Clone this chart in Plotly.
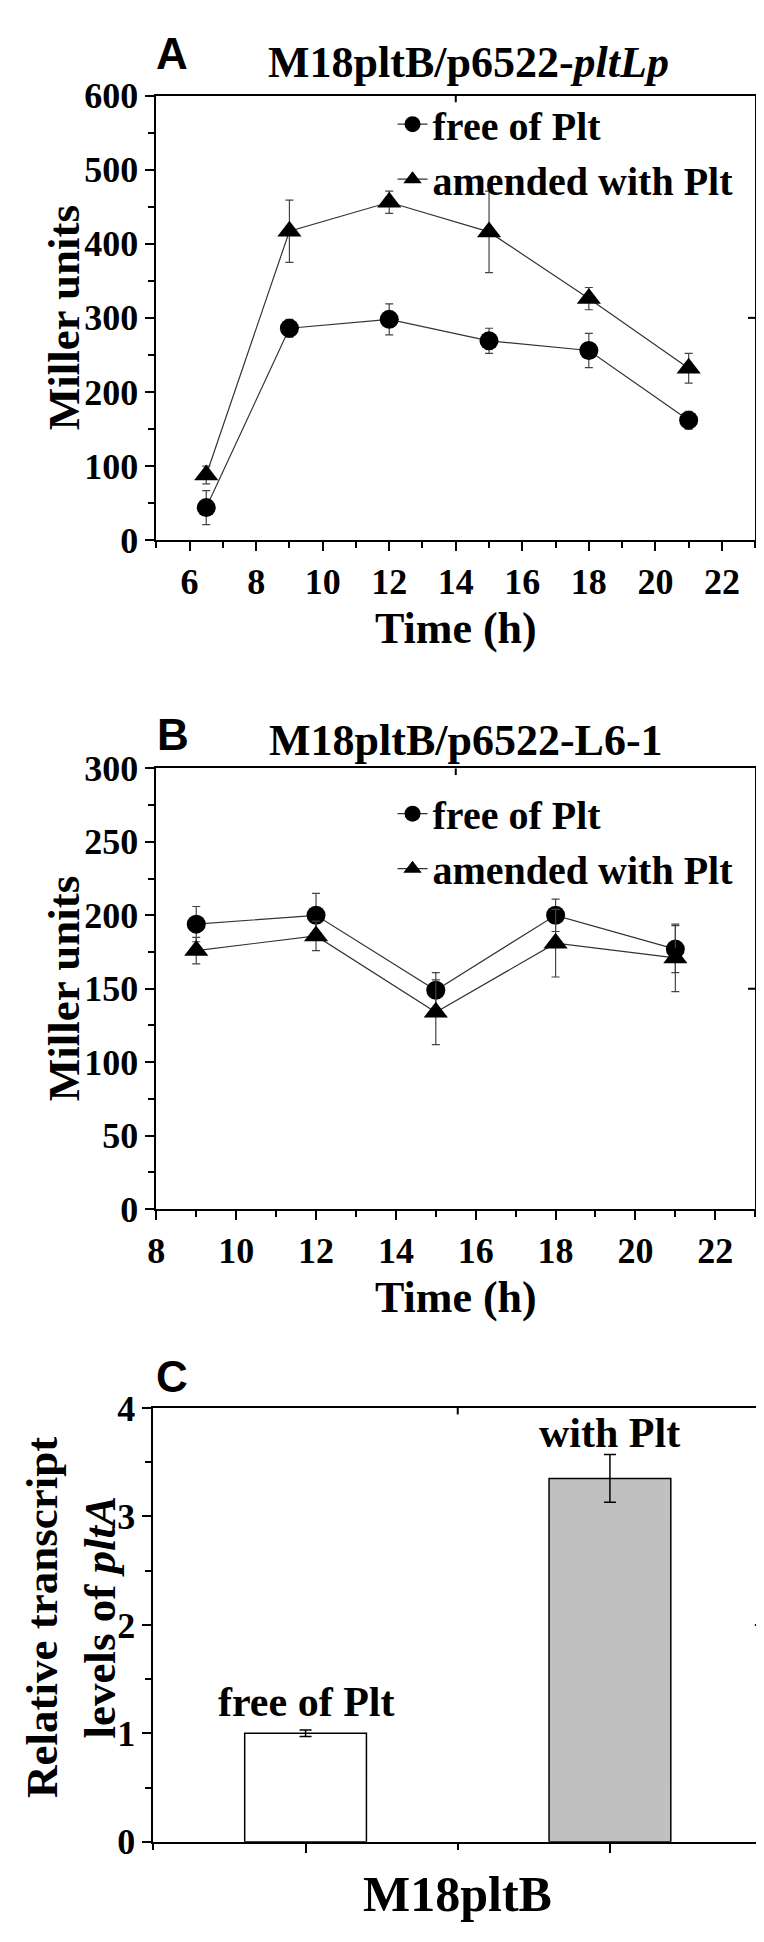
import plotly.graph_objects as go

W, H = 764, 1942
SERIF = "Liberation Serif, Times New Roman, serif"
SANS = "Liberation Sans, Arial, sans-serif"

# ---------------- data ----------------
# Panel A : M18pltB/p6522-pltLp
time_a = [6.5, 9, 12, 15, 18, 21]
free_a = [44, 286, 298, 269, 256, 162]
free_a_err = [23, 12, 21, 17, 23, 12]
amend_a = [88, 417, 456, 416, 326, 232]
amend_a_err = [12, 42, 15, 55, 15, 20]

# Panel B : M18pltB/p6522-L6-1
time_b = [9, 12, 15, 18, 21]
free_b = [194, 200, 149, 200, 177]
free_b_err = [12, 15, 12, 11, 16]
amend_b = [176, 186, 134, 181, 171]
amend_b_err = [9, 10, 22, 23, 23]

# Panel C : relative transcript levels of pltA
cond_c = ["free of Plt", "with Plt"]
pos_c = [1, 2]
level_c = [1.0, 3.35]
level_c_err = [0.03, 0.22]
label_y_c = [1.29, 3.77]
fill_c = ["white", "#c0c0c0"]

x_ticks_a = [6, 8, 10, 12, 14, 16, 18, 20, 22]
x_ticks_b = [8, 10, 12, 14, 16, 18, 20, 22]


def fx(px):
    return px / W


def fy(py):
    return 1 - py / H


# plot-area geometry (pixels)
A_L, A_R, A_T, A_B = 141, 747, 70, 524
B_L, B_R, B_T, B_B = 141, 747, 757, 1207
C_L, C_R, C_T, C_B = 138, 754, 1410, 1853

fig = go.Figure()

line_col = "#333333"
err_col = "#444444"


def series(x, y, err, name, symbol, size, xa, ya, leg):
    return go.Scatter(
        x=x, y=y, name=name, mode="lines+markers",
        error_y=dict(type="data", array=err, visible=True, color=err_col,
                     thickness=1.2, width=4),
        marker=dict(symbol=symbol, size=size, color="black",
                    line=dict(width=0)),
        line=dict(color=line_col, width=1.2),
        xaxis=xa, yaxis=ya, legend=leg,
    )


fig.add_trace(series(time_a, free_a, free_a_err, "free of Plt", "circle", 19, "x", "y", "legend"))
fig.add_trace(series(time_a, amend_a, amend_a_err, "amended with Plt", "triangle-up", 21, "x", "y", "legend"))
fig.add_trace(series(time_b, free_b, free_b_err, "free of Plt", "circle", 19, "x2", "y2", "legend2"))
fig.add_trace(series(time_b, amend_b, amend_b_err, "amended with Plt", "triangle-up", 21, "x2", "y2", "legend2"))

fig.add_trace(go.Bar(
    x=pos_c, y=level_c, width=0.4, showlegend=False,
    marker=dict(color=fill_c, line=dict(color="black", width=1.5)),
    error_y=dict(type="data", array=level_c_err, visible=True, color="black",
                 thickness=1.5, width=6),
    xaxis="x3", yaxis="y3",
))

tickfont = dict(family=SERIF, size=36, color="black", weight="bold")
axis_common = dict(
    showline=True, linecolor="black", linewidth=2, mirror=True,
    ticks="outside", ticklen=9, tickwidth=2, tickcolor="black",
    showgrid=False, zeroline=False, tickfont=tickfont, fixedrange=True,
)
minor_common = dict(ticks="outside", ticklen=6, tickwidth=2, tickcolor="black")

fig.update_layout(
    width=W, height=H,
    margin=dict(l=0, r=0, t=0, b=0),
    paper_bgcolor="white", plot_bgcolor="white",
    showlegend=True,
    xaxis=dict(axis_common, domain=[fx(A_L), fx(A_R)], anchor="y", range=[5, 23],
               tickmode="array", tickvals=x_ticks_a,
               minor=dict(minor_common, dtick=1, tick0=5)),
    yaxis=dict(axis_common, domain=[fy(A_B), fy(A_T)], anchor="x", range=[0, 600],
               dtick=100, tick0=0, minor=dict(minor_common, dtick=50)),
    xaxis2=dict(axis_common, domain=[fx(B_L), fx(B_R)], anchor="y2", range=[8, 23],
                tickmode="array", tickvals=x_ticks_b,
                minor=dict(minor_common, dtick=1, tick0=8)),
    yaxis2=dict(axis_common, domain=[fy(B_B), fy(B_T)], anchor="x2", range=[0, 300],
                dtick=50, tick0=0, minor=dict(minor_common, dtick=25)),
    xaxis3=dict(axis_common, domain=[fx(C_L), fx(C_R)], anchor="y3", range=[0.5, 2.5],
                tickmode="array", tickvals=pos_c, showticklabels=False,
                minor=dict(minor_common, tickmode="array", tickvals=[0.5, 1.5, 2.5])),
    yaxis3=dict(axis_common, domain=[fy(C_B), fy(C_T)], anchor="x3", range=[0, 4],
                dtick=1, tick0=0, minor=dict(minor_common, dtick=0.5)),
    legend=dict(x=fx(380), y=fy(66), xanchor="left", yanchor="top",
                bgcolor="rgba(0,0,0,0)", borderwidth=0,
                font=dict(family=SERIF, size=40, color="black", weight="bold"),
                itemclick=False, itemdoubleclick=False),
    legend2=dict(x=fx(380), y=fy(770), xanchor="left", yanchor="top",
                 bgcolor="rgba(0,0,0,0)", borderwidth=0,
                 font=dict(family=SERIF, size=40, color="black", weight="bold"),
                 itemclick=False, itemdoubleclick=False),
)

# Origin-style centre ticks on the top and right frame
shapes = []
for xa, ya, xc, yc in [("x", "y", 14, 300), ("x2", "y2", 15.5, 150), ("x3", "y3", 1.5, 2)]:
    shapes.append(dict(type="line", xref=xa, yref=ya + " domain", x0=xc, x1=xc, y0=1, y1=0.985,
                       line=dict(color="black", width=2)))
    shapes.append(dict(type="line", xref=xa + " domain", yref=ya, x0=1, x1=0.988, y0=yc, y1=yc,
                       line=dict(color="black", width=2)))
fig.update_layout(shapes=shapes)


def ann(text, x, y, size, family=SERIF, angle=0, xref="paper", yref="paper"):
    fig.add_annotation(text=text, x=x, y=y, xref=xref, yref=yref, showarrow=False,
                       xanchor="center", yanchor="middle", textangle=angle,
                       font=dict(family=family, size=size, color="black", weight="bold"))


# panel letters
ann("A", fx(157), fy(27), 44, SANS)
ann("B", fx(158), fy(722), 44, SANS)
ann("C", fx(157), fy(1378), 44, SANS)

# panel titles
ann("M18pltB/p6522-<i>pltLp</i>", fx(457), fy(36), 44)
ann("M18pltB/p6522-L6-1", fx(454), fy(728), 44)

# axis titles
ann("Miller units", fx(47), fy(297), 45, angle=-90)
ann("Time (h)", fx(444), fy(614), 44)
ann("Miller units", fx(47), fy(982), 45, angle=-90)
ann("Time (h)", fx(444), fy(1297), 44)
ann("Relative transcript<br>levels of <i>pltA</i>", fx(55), fy(1624), 45, angle=-90)
ann("M18pltB", fx(446), fy(1906), 50)

# bar labels
for p, ly, lab in zip(pos_c, label_y_c, cond_c):
    ann(lab, p, ly, 42, xref="x3", yref="y3")

fig.write_html("out.html")
